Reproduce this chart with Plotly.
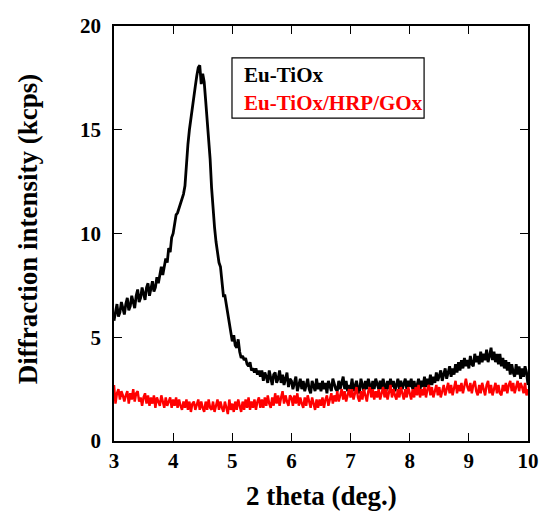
import plotly.graph_objects as go

two_theta_start = 3.0
two_theta_step = 0.025

eu_tiox = [
    5.8, 6.3, 6.6, 6.0, 6.2, 6.7, 6.4, 6.1, 6.6, 6.9, 6.3, 6.5, 7.0, 6.7, 6.4, 7.0, 7.3, 6.7, 6.9, 7.4,
    7.0, 6.8, 7.4, 7.6, 7.0, 7.3, 7.7, 7.2, 7.4, 7.9, 7.6, 8.0, 8.4, 8.0, 8.5, 8.8, 8.6, 9.3, 9.1, 9.8,
    10.0, 10.4, 10.9, 11.0, 11.2, 11.4, 11.6, 11.9, 12.3, 13.6, 14.3, 15.0, 15.6, 16.1, 16.6, 17.1, 17.6, 18.0, 18.1, 17.2,
    17.7, 17.3, 16.4, 15.6, 14.6, 13.6, 12.2, 11.0, 10.3, 9.6, 9.0, 8.6, 8.4, 7.6, 7.0, 7.0, 6.6, 6.2, 5.7, 5.2,
    4.8, 5.1, 4.6, 4.5, 4.9, 4.3, 4.0, 4.1, 3.9, 4.0, 3.7, 3.6, 3.8, 3.4, 3.5, 3.3, 3.5, 3.2, 3.4, 3.1,
    3.4, 2.9, 3.3, 3.1, 2.8, 3.4, 3.0, 2.7, 3.2, 3.3, 2.8, 3.0, 3.4, 2.8, 3.2, 2.7, 3.0, 3.3, 2.6, 3.0,
    2.9, 2.5, 2.8, 3.1, 2.4, 2.7, 3.0, 2.5, 2.9, 2.4, 2.7, 3.0, 2.5, 2.3, 2.9, 2.7, 2.4, 3.0, 2.5, 2.8,
    2.4, 2.9, 2.5, 2.8, 2.3, 2.9, 2.6, 2.4, 3.0, 2.7, 2.5, 2.4, 2.9, 2.5, 2.8, 3.1, 2.5, 2.9, 2.4, 2.7,
    2.5, 3.0, 2.4, 2.7, 2.9, 2.5, 2.3, 3.0, 2.7, 2.4, 2.9, 2.5, 3.0, 2.7, 2.4, 2.9, 2.5, 3.0, 2.7, 2.5,
    2.9, 2.5, 3.0, 2.6, 2.4, 2.9, 2.5, 3.0, 2.6, 2.9, 2.4, 2.7, 3.0, 2.5, 2.9, 2.5, 2.7, 3.0, 2.5, 2.9,
    2.6, 3.0, 2.5, 2.9, 2.4, 2.7, 3.0, 2.5, 2.9, 2.6, 3.1, 2.6, 3.0, 2.7, 3.2, 2.7, 3.1, 2.8, 3.3, 2.9,
    3.2, 3.4, 2.9, 3.3, 3.5, 3.0, 3.4, 3.6, 3.1, 3.5, 3.2, 3.7, 3.3, 3.8, 3.4, 3.9, 3.5, 4.0, 3.6, 3.9,
    3.5, 4.1, 3.7, 3.6, 4.2, 3.8, 4.1, 3.7, 4.3, 3.8, 4.2, 3.9, 4.4, 3.8, 4.1, 4.5, 3.9, 4.3, 3.8, 4.2,
    3.7, 4.2, 3.6, 4.0, 3.5, 3.9, 3.4, 3.8, 3.2, 3.7, 3.3, 3.1, 3.7, 3.2, 3.6, 3.0, 3.5, 3.1, 3.6, 3.3,
    2.7,
]

eu_tiox_hrp_gox = [
    2.7, 1.8, 2.3, 2.5, 2.0, 2.4, 2.2, 1.9, 2.2, 2.4, 1.8, 2.3, 2.0, 2.5, 1.9, 2.3, 2.4, 1.9, 2.1, 1.7,
    2.1, 2.3, 1.8, 2.2, 1.7, 2.1, 1.8, 2.2, 1.6, 2.1, 1.9, 1.7, 2.2, 1.8, 1.6, 2.1, 1.7, 1.9, 2.1, 1.6,
    2.0, 1.7, 2.1, 1.6, 2.0, 1.7, 1.5, 1.9, 1.6, 2.0, 1.5, 1.9, 1.4, 1.8, 1.9, 1.5, 1.8, 2.0, 1.5, 1.9,
    1.6, 1.4, 1.9, 1.5, 2.0, 1.6, 1.5, 1.9, 1.4, 1.8, 2.0, 1.5, 1.9, 1.6, 1.4, 1.9, 1.5, 1.3, 2.0, 1.5,
    1.8, 1.4, 1.9, 1.5, 2.0, 1.6, 1.4, 1.9, 1.5, 2.0, 1.6, 2.1, 1.5, 1.9, 1.6, 2.0, 1.5, 1.9, 2.1, 1.6,
    2.0, 1.6, 2.1, 1.7, 2.2, 1.8, 1.6, 2.1, 1.7, 2.3, 1.8, 2.2, 1.7, 2.1, 2.4, 1.8, 2.2, 1.9, 1.7, 2.2,
    2.1, 1.7, 2.2, 1.8, 2.3, 1.7, 2.1, 1.8, 1.6, 2.1, 1.7, 2.2, 1.8, 1.6, 2.1, 1.7, 1.5, 2.0, 1.6, 2.0,
    1.7, 2.1, 1.6, 2.0, 2.2, 1.7, 2.1, 2.3, 1.8, 2.2, 1.9, 2.4, 1.9, 2.3, 2.5, 2.0, 2.4, 1.9, 2.3, 2.5,
    2.1, 2.5, 2.0, 2.4, 2.6, 2.1, 1.9, 2.4, 2.0, 2.5, 2.1, 1.9, 2.4, 2.6, 2.1, 2.5, 2.0, 2.4, 2.1, 2.5,
    2.0, 2.4, 2.6, 2.1, 2.5, 2.0, 2.4, 2.7, 2.1, 2.5, 2.2, 2.0, 2.5, 2.1, 2.6, 2.2, 2.0, 2.5, 2.1, 2.6,
    2.2, 2.0, 2.5, 2.1, 2.6, 2.2, 2.7, 2.1, 2.5, 2.2, 2.6, 2.1, 2.5, 2.7, 2.2, 2.6, 2.1, 2.5, 2.7, 2.2,
    2.6, 2.1, 2.5, 2.7, 2.2, 2.6, 2.8, 2.3, 2.7, 2.2, 2.6, 2.9, 2.3, 2.7, 2.4, 2.8, 2.3, 2.7, 3.0, 2.6,
    2.4, 2.8, 2.3, 2.7, 2.9, 2.4, 2.2, 2.7, 2.3, 2.8, 2.4, 2.2, 2.7, 2.9, 2.3, 2.7, 2.2, 2.6, 2.8, 2.3,
    2.7, 2.3, 2.2, 2.7, 2.4, 2.8, 2.3, 2.7, 2.9, 2.4, 2.8, 2.3, 2.7, 2.9, 2.4, 2.8, 2.6, 2.3, 2.8, 2.2,
    2.5,
]

series_names = ["Eu-TiOx", "Eu-TiOx/HRP/GOx"]
series_colors = ["black", "red"]
x_ticks = [3, 4, 5, 6, 7, 8, 9, 10]
y_ticks = [0, 5, 10, 15, 20]
x_title = "2 theta (deg.)"
y_title = "Diffraction intensity (kcps)"

two_theta = [round(two_theta_start + two_theta_step * i, 3) for i in range(len(eu_tiox))]

FONT = "Times New Roman"

fig = go.Figure()
for name, ys, col, w in zip(series_names, [eu_tiox, eu_tiox_hrp_gox], series_colors, [2.8, 2.4]):
    fig.add_trace(go.Scatter(x=two_theta, y=ys, mode="lines", name=name,
                             line=dict(color=col, width=w), showlegend=False))

axis_common = dict(showgrid=False, zeroline=False, showline=True, linecolor="black",
                   linewidth=1.5, mirror="ticks", ticks="inside", ticklen=8,
                   tickwidth=1, tickcolor="black", automargin=False,
                   tickfont=dict(family=FONT, size=21, color="black", weight="bold"))

fig.update_xaxes(range=[3, 10], tickvals=x_ticks, ticktext=[str(v) for v in x_ticks], **axis_common)
fig.update_yaxes(range=[0, 20], tickvals=y_ticks, ticktext=[str(v) for v in y_ticks],
                 ticklabelstandoff=7, **axis_common)

# axis titles
fig.add_annotation(xref="paper", yref="paper", x=0.5, y=-0.133, xanchor="center", yanchor="middle",
                   text="<b>" + x_title + "</b>", showarrow=False,
                   font=dict(family=FONT, size=27, color="black"))
fig.add_annotation(xref="paper", yref="paper", x=-0.208, y=0.51, xanchor="center", yanchor="middle",
                   text="<b>" + y_title + "</b>", showarrow=False, textangle=-90,
                   font=dict(family=FONT, size=27, color="black"))

# legend box
fig.add_shape(type="rect", xref="paper", yref="paper", x0=0.285, x1=0.749, y0=0.778, y1=0.923,
              line=dict(color="black", width=1.2), fillcolor="white", layer="above")
for name, col, yy in zip(series_names, series_colors, [0.882, 0.815]):
    fig.add_annotation(xref="paper", yref="paper", x=0.31, y=yy, xanchor="left", yanchor="middle",
                       text="<b>" + name + "</b>", showarrow=False,
                       font=dict(family=FONT, size=21, color=col))

fig.update_layout(width=541, height=511, margin=dict(l=114, r=13, t=26, b=70),
                  plot_bgcolor="white", paper_bgcolor="white",
                  font=dict(family=FONT, color="black"))

fig.write_html("out.html", config={"displayModeBar": False},
               post_script="document.body.style.margin='0px';document.body.style.overflow='hidden';")
